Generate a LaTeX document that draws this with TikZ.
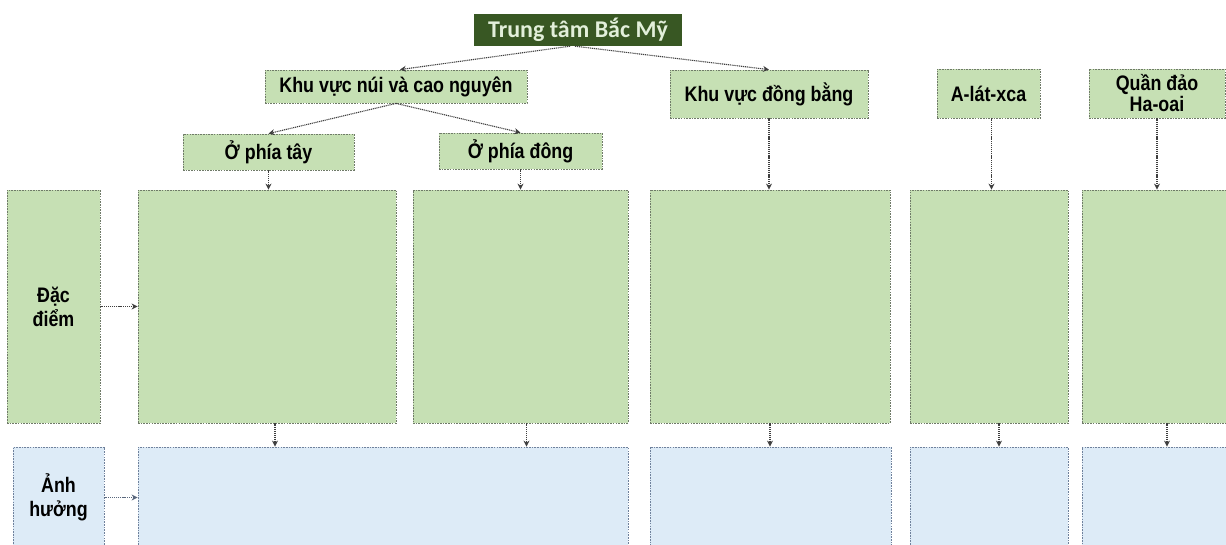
\documentclass[tikz,border=0pt]{standalone}
\usepackage{fontspec}
\setmainfont{Liberation Sans}
\newfontfamily\narrowfont[FakeStretch=0.85]{Liberation Sans}
\newfontfamily\titlefont{Carlito}
\usetikzlibrary{arrows.meta}
\definecolor{gfill}{HTML}{C6E0B4}
\definecolor{bfill}{HTML}{DDEBF7}
\definecolor{dkgreen}{HTML}{385723}
\definecolor{ltgreen}{HTML}{E2EFDA}
\definecolor{gborder}{HTML}{6F7A68}
\definecolor{bborder}{HTML}{6F819C}
\definecolor{arrowc}{HTML}{3F3F3F}
\tikzset{
  gbox/.style={draw=gborder, fill=gfill, line width=0.8pt, dash pattern=on 1.6pt off 1.1pt, inner sep=0pt, align=center, font=\narrowfont\bfseries\fontsize{21}{24}\selectfont, text=black},
  bbox/.style={draw=bborder, fill=bfill, line width=0.8pt, dash pattern=on 1.6pt off 1.1pt, inner sep=0pt, align=center, font=\narrowfont\bfseries\fontsize{21}{24}\selectfont, text=black},
  titlebox/.style={fill=dkgreen, text=ltgreen, inner sep=0pt, font=\titlefont\bfseries\fontsize{24}{26}\selectfont},
  conn/.style={draw=arrowc, line width=1.1pt, dash pattern=on 1.1pt off 0.8pt, -{Stealth[length=6pt,width=6pt]}},
  bconn/.style={conn, draw=bborder!80!black}
}
\begin{document}
\begin{tikzpicture}[x=1pt,y=-1pt]
\useasboundingbox (0,0) rectangle (1226,544);
\clip (0,0) rectangle (1226,544);
% headers
\node[titlebox, minimum width=208pt, minimum height=32pt] (top) at (578,30) {Trung tâm Bắc Mỹ};
\node[gbox, minimum width=262pt, minimum height=33pt] (nui) at (396,86.5) {Khu vực núi và cao nguyên};
\node[gbox, minimum width=171pt, minimum height=36pt] (tay) at (268.5,152) {Ở phía tây};
\node[gbox, minimum width=163pt, minimum height=36pt] (dong) at (520.5,151) {Ở phía đông};
\node[gbox, minimum width=198pt, minimum height=48pt] (dongbang) at (769,94) {Khu vực đồng bằng};
\node[gbox, minimum width=103pt, minimum height=49pt] (alaska) at (988.5,93.5) {A-lát-xca};
\node[gbox, minimum width=136pt, minimum height=49pt, font=\narrowfont\bfseries\fontsize{21}{21}\selectfont] (hawaii) at (1157,93.5) {Quần đảo\\Ha-oai};
% green row
\node[gbox, minimum width=93pt, minimum height=233pt] (dacdiem) at (53.5,306.5) {Đặc\\điểm};
\node[gbox, minimum width=258pt, minimum height=233pt] (g1) at (267,306.5) {};
\node[gbox, minimum width=215pt, minimum height=233pt] (g2) at (520.5,306.5) {};
\node[gbox, minimum width=240pt, minimum height=233pt] (g3) at (770,306.5) {};
\node[gbox, minimum width=158pt, minimum height=233pt] (g4) at (989,306.5) {};
\node[gbox, minimum width=150pt, minimum height=233pt] (g5) at (1157,306.5) {};
% blue row
\node[bbox, minimum width=91pt, minimum height=101pt] (anh) at (58.5,497.5) {Ảnh\\hưởng};
\node[bbox, minimum width=490pt, minimum height=101pt] (b1) at (383,497.5) {};
\node[bbox, minimum width=241pt, minimum height=101pt] (b3) at (770.5,497.5) {};
\node[bbox, minimum width=158pt, minimum height=101pt] (b4) at (989,497.5) {};
\node[bbox, minimum width=150pt, minimum height=101pt] (b5) at (1157,497.5) {};
% connectors
\draw[conn] ([xshift=-8pt]top.south) -- ([xshift=4pt]nui.north);
\draw[conn] ([xshift=-3pt]top.south) -- (dongbang.north);
\draw[conn] (nui.south) -- (tay.north);
\draw[conn] (nui.south) -- (dong.north);
\draw[conn] (tay.south) -- (tay.south |- g1.north);
\draw[conn] (dong.south) -- (dong.south |- g2.north);
\draw[conn] (dongbang.south) -- (dongbang.south |- g3.north);
\draw[conn] ([xshift=3pt]alaska.south) -- ([xshift=3pt]alaska.south |- g4.north);
\draw[conn] (hawaii.south) -- (hawaii.south |- g5.north);
\draw[conn] ([xshift=8pt]g1.south) -- ([xshift=8pt]g1.south |- b1.north);
\draw[conn] ([xshift=6pt]g2.south) -- ([xshift=6pt]g2.south |- b1.north);
\draw[conn] (g3.south) -- (g3.south |- b3.north);
\draw[conn] ([xshift=10pt]g4.south) -- ([xshift=10pt]g4.south |- b4.north);
\draw[conn] ([xshift=10pt]g5.south) -- ([xshift=10pt]g5.south |- b5.north);
\draw[conn] (dacdiem.east) -- (g1.west);
\draw[bconn] (anh.east) -- (b1.west);
\end{tikzpicture}
\end{document}
